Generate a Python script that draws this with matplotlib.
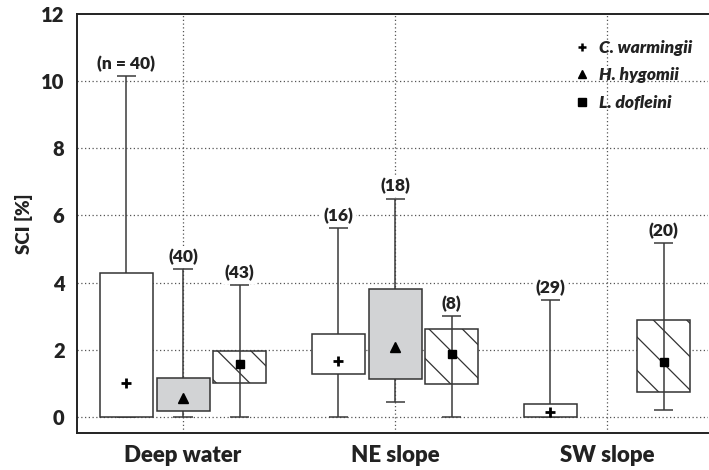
import numpy as np
import matplotlib.pyplot as plt
from matplotlib.lines import Line2D

plt.rcParams['font.family'] = ['Lato', 'DejaVu Sans']
plt.rcParams['hatch.linewidth'] = 0.9

groups = ["Deep water", "NE slope", "SW slope"]
species = ["C. warmingii", "H. hygomii", "L. dofleini"]

# per species: values for the three groups (None = no data)
wlo = {"C. warmingii": [0.0, 0.0, 0.0],
       "H. hygomii":   [0.0, 0.44, None],
       "L. dofleini":  [0.0, 0.0, 0.2]}
q1 = {"C. warmingii": [0.0, 1.28, 0.0],
      "H. hygomii":   [0.17, 1.13, None],
      "L. dofleini":  [1.02, 0.98, 0.73]}
q3 = {"C. warmingii": [4.3, 2.48, 0.37],
      "H. hygomii":   [1.16, 3.82, None],
      "L. dofleini":  [1.97, 2.61, 2.9]}
whi = {"C. warmingii": [10.15, 5.62, 3.48],
       "H. hygomii":   [4.4, 6.5, None],
       "L. dofleini":  [3.93, 3.0, 5.17]}
mean = {"C. warmingii": [1.0, 1.65, 0.16],
        "H. hygomii":   [0.55, 2.07, None],
        "L. dofleini":  [1.57, 1.86, 1.62]}
nlab = {"C. warmingii": ["(n = 40)", "(16)", "(29)"],
        "H. hygomii":   ["(40)", "(18)", None],
        "L. dofleini":  ["(43)", "(8)", "(20)"]}

offset = {"C. warmingii": -0.267, "H. hygomii": 0.0, "L. dofleini": 0.267}
face = {"C. warmingii": "white", "H. hygomii": "#d2d3d5", "L. dofleini": "white"}
hatch = {"C. warmingii": None, "H. hygomii": None, "L. dofleini": "\\"}
marker = {"C. warmingii": "+", "H. hygomii": "^", "L. dofleini": "s"}
msize = {"C. warmingii": 7, "H. hygomii": 6.5, "L. dofleini": 6}

fig = plt.figure(figsize=(7.09, 4.70), dpi=100)
ax = fig.add_axes([77 / 709, 1 - 433 / 470, 631 / 709, 419 / 470])

bw = 0.25
cw = 0.09
txt = "#222222"
for sp in species:
    for g in range(3):
        if q1[sp][g] is None:
            continue
        x = g + offset[sp]
        over = hatch[sp] is not None
        ax.vlines(x, wlo[sp][g], whi[sp][g], color="#3a3a3a", lw=1.1,
                  zorder=4 if over else 2)
        ax.hlines([wlo[sp][g], whi[sp][g]], x - cw / 2, x + cw / 2,
                  color="#3a3a3a", lw=1.1, zorder=2)
        ax.bar(x, q3[sp][g] - q1[sp][g], bottom=q1[sp][g], width=bw,
               color=face[sp], edgecolor="#333333", lw=1.1,
               hatch=hatch[sp], zorder=3)
        ax.plot(x, mean[sp][g], marker=marker[sp], color="black",
                ms=msize[sp], mew=2 if sp == "C. warmingii" else 1,
                ls="none", zorder=5)
        ax.text(x, whi[sp][g] + 0.12, nlab[sp][g], ha="center", va="bottom",
                fontsize=12.5, fontweight="heavy", color=txt, zorder=6,
                bbox=dict(boxstyle="square,pad=0.15", fc="white", ec="none"))

ax.set_xlim(-0.5, 2.476)
ax.set_ylim(-0.48, 12)
ax.set_yticks(range(0, 13, 2))
ax.set_xticks(range(3))
ax.set_xticklabels(groups, fontsize=16, fontweight="heavy", color=txt)
for t in ax.get_yticklabels():
    t.set_fontsize(14.5)
    t.set_fontweight("heavy")
    t.set_color(txt)
ax.tick_params(length=0, pad=9)
ax.tick_params(axis="x", pad=9)
ax.set_ylabel("SCI [%]", fontsize=13.5, fontweight="heavy", color=txt,
              labelpad=6)

for yv in range(0, 11, 2):
    ax.axhline(yv, color="#555555", lw=0.9, ls=(0, (1, 2)), zorder=1)
for g in range(3):
    ax.axvline(g, color="#555555", lw=0.9, ls=(0, (1, 2)), zorder=1)

ax.spines["right"].set_visible(False)
for s in ["left", "top", "bottom"]:
    ax.spines[s].set_linewidth(1.4)
    ax.spines[s].set_color("#222222")

handles = [Line2D([], [], marker=marker[sp], color="black", ls="none",
                  ms=6, mew=1.8 if sp == "C. warmingii" else 1)
           for sp in species]
leg = ax.legend(handles, species, loc="upper right", frameon=False,
                prop=dict(size=12.5, weight="heavy", style="italic"),
                handlelength=1.2, handletextpad=0.4, labelspacing=0.65,
                bbox_to_anchor=(1.0, 0.975))
for t in leg.get_texts():
    t.set_color(txt)

fig.savefig("out.png", dpi=100)
